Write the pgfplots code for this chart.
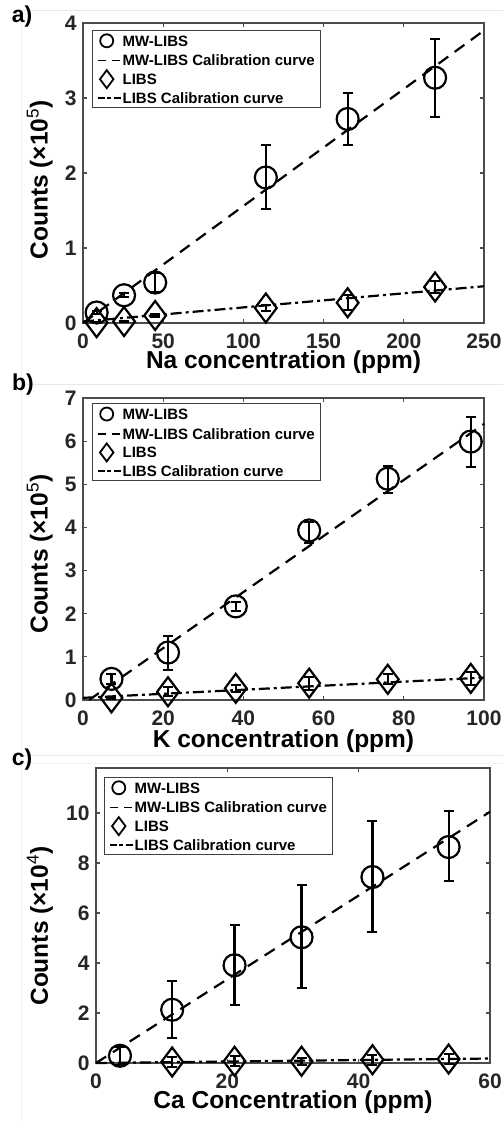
\documentclass[border=0pt]{standalone}
\usepackage{fontspec}
\setmainfont{Liberation Sans}
\usepackage{pgfplots}
\pgfplotsset{compat=1.18}

\newcommand\tickfont{\fontsize{21}{23}\selectfont\bfseries}
\newcommand\labfont{\fontsize{24.5}{27}\selectfont\bfseries}
\newcommand\legfont{\fontsize{15}{17}\selectfont\bfseries}

\pgfplotsset{
  libsax/.style={
    scale only axis, clip=false,
    axis line style={black!70, line width=1.4pt},
    tick style={black!70, line width=1.2pt},
    tick align=inside, major tick length=4pt,
    xtick pos=both, ytick pos=both,
    ticklabel style={font=\tickfont, text=black!85, inner sep=1pt},
    xticklabel style={yshift=-9.3pt},
    yticklabel style={xshift=-5.3pt},
    /pgf/number format/assume math mode=true,
    label style={font=\labfont, inner sep=0pt},
    legend cell align=left,
    legend style={anchor=north west, draw=black!75, line width=1pt, font=\legfont,
      inner xsep=4.5pt, inner ysep=3pt, row sep=5.75pt,
      nodes={inner sep=1pt, text height=11pt, text depth=0pt}},
  },
  mw/.style={only marks, black, mark=o, mark size=11pt, mark options={line width=2.2pt, solid},
    legend image code/.code={
      \path[draw=none, fill=none] (0pt,-6pt) rectangle (23pt,6pt);
      \draw[black, solid, line width=1.8pt] (9pt,0pt) circle (6.5pt);},
    error bars/.cd, y dir=both, y explicit,
    error bar style={line width=2.2pt, solid},
    error mark options={rotate=90, mark size=5pt, line width=2pt}},
  libs/.style={only marks, black, mark=diamond, mark size=14.5pt, mark options={line width=2.2pt, solid},
    legend image code/.code={
      \path[draw=none, fill=none] (0pt,-6pt) rectangle (23pt,6pt);
      \draw[black, solid, line width=1.8pt, overlay] (9pt,9pt) -- (15.75pt,0pt) -- (9pt,-9pt) -- (2.25pt,0pt) -- cycle;},
    error bars/.cd, y dir=both, y explicit,
    error bar style={line width=2.2pt, solid},
    error mark options={rotate=90, mark size=5pt, line width=2pt}},
  mwcal/.style={black, no marks, line width=2.2pt, dash pattern=on 12pt off 8pt,
    legend image code/.code={
      \path[draw=none, fill=none] (0pt,-6pt) rectangle (23pt,6pt);
      \draw[black, line width=1.8pt, dash pattern=on 8pt off 6pt] (0pt,0pt) -- (23pt,0pt);}},
  libscal/.style={black, no marks, line width=2.2pt, dash pattern=on 11pt off 4pt on 3pt off 4pt,
    legend image code/.code={
      \path[draw=none, fill=none] (0pt,-6pt) rectangle (23pt,6pt);
      \draw[black, line width=1.8pt, dash pattern=on 7pt off 2.5pt on 4pt off 2.5pt] (0pt,0pt) -- (23pt,0pt);}},
}

\begin{document}
\begin{tikzpicture}
\useasboundingbox (0pt,0pt) rectangle (503pt,-1121pt);
% faint figure edges
\begin{scope}[gray!18, line width=0.8pt]
\draw (21pt,-10pt) -- (503pt,-10pt);
\draw (21pt,-384pt) -- (503pt,-384pt);
\draw (21pt,-755pt) -- (503pt,-755pt);
\draw[gray!10] (21pt,-763pt) -- (503pt,-763pt);
\draw[gray!10] (21pt,-10pt) -- (21pt,-1121pt);
\end{scope}

\node[font=\fontsize{23}{25}\selectfont\bfseries] at (22pt,-17pt) {a)};
\node[font=\fontsize{23}{25}\selectfont\bfseries] at (23pt,-385pt) {b)};
\node[font=\fontsize{23}{25}\selectfont\bfseries] at (22pt,-760pt) {c)};

% ---- a) Na
\begin{axis}[libsax,
  at={(83pt,-323pt)}, anchor=south west, width=401pt, height=300pt,
  xmin=0, xmax=250, ymin=0, ymax=4,
  xtick={0,50,...,250}, ytick={0,1,2,3,4},
  xlabel={Na concentration (ppm)},
  ylabel={Counts (\texttimes10\textsuperscript{\mdseries 5})},
  xlabel style={at={(axis description cs:0.5,-0.093)}, anchor=north},
  ylabel style={at={(axis description cs:-0.075,0.477)}, anchor=south},
  legend style={at={(0.022,0.977)}},
]
\addplot[mw] coordinates {
(8.5,0.14) +- (0,0.025)
(25.6,0.37) +- (0,0.025)
(45,0.54) +- (0,0.13)
(114,1.94) += (0,0.43) -= (0,0.42)
(165,2.72) +- (0,0.35)
(219.5,3.27) += (0,0.51) -= (0,0.52)
};
\addlegendentry{MW-LIBS}
\addplot[mwcal] coordinates {(0,0) (250,3.9)};
\addlegendentry{MW-LIBS Calibration curve}
\addplot[libs] coordinates {
(8.5,0.005) +- (0,0.01)
(25.6,0.02) +- (0,0.01)
(45,0.1) +- (0,0.02)
(114,0.2) +- (0,0.04)
(165,0.27) +- (0,0.1)
(219.5,0.48) +- (0,0.08)
};
\addlegendentry{LIBS}
\addplot[libscal] coordinates {(0,0.02) (250,0.49)};
\addlegendentry{LIBS Calibration curve}
\end{axis}

% ---- b) K
\begin{axis}[libsax,
  at={(83pt,-700pt)}, anchor=south west, width=401pt, height=302pt,
  xmin=0, xmax=100, ymin=0, ymax=7,
  xtick={0,20,...,100}, ytick={0,1,...,7},
  xlabel={K concentration (ppm)},
  ylabel={Counts (\texttimes10\textsuperscript{\mdseries 5})},
  xlabel style={at={(axis description cs:0.5,-0.099)}, anchor=north},
  ylabel style={at={(axis description cs:-0.075,0.483)}, anchor=south},
  legend style={at={(0.022,0.983)}},
]
\addplot[mw] coordinates {
(7.1,0.49) +- (0,0.12)
(21.2,1.10) += (0,0.39) -= (0,0.40)
(38.1,2.17) +- (0,0.1)
(56.4,3.93) += (0,0.2) -= (0,0.3)
(76,5.13) += (0,0.3) -= (0,0.33)
(96.7,5.99) += (0,0.57) -= (0,0.6)
};
\addlegendentry{MW-LIBS}
\addplot[mwcal] coordinates {(1.5,0) (100,6.4)};
\addlegendentry{MW-LIBS Calibration curve}
\addplot[libs] coordinates {
(7.1,0.05) +- (0,0.03)
(21.2,0.19) +- (0,0.1)
(38.1,0.27) +- (0,0.08)
(56.4,0.39) +- (0,0.15)
(76,0.48) +- (0,0.12)
(96.7,0.5) +- (0,0.15)
};
\addlegendentry{LIBS}
\addplot[libscal] coordinates {(0,0.05) (100,0.52)};
\addlegendentry{LIBS Calibration curve}
\end{axis}

% ---- c) Ca
\begin{axis}[libsax,
  at={(96pt,-1063pt)}, anchor=south west, width=394pt, height=295pt,
  xmin=0, xmax=60, ymin=0, ymax=11.8,
  xtick={0,20,40,60}, ytick={0,2,...,10},
  xlabel={Ca Concentration (ppm)},
  ylabel={Counts (\texttimes10\textsuperscript{\mdseries 4})},
  xlabel style={at={(axis description cs:0.5,-0.095)}, anchor=north},
  ylabel style={at={(axis description cs:-0.109,0.464)}, anchor=south},
  legend style={at={(0.02,0.97)}},
]
\addplot[mw] coordinates {
(3.65,0.29) +- (0,0.35)
(11.6,2.13) += (0,1.16) -= (0,1.13)
(21.1,3.91) +- (0,1.6)
(31.3,5.03) += (0,2.08) -= (0,2.03)
(42.1,7.44) += (0,2.25) -= (0,2.21)
(53.7,8.64) += (0,1.43) -= (0,1.37)
};
\addlegendentry{MW-LIBS}
\addplot[mwcal] coordinates {(0,0) (60,10.05)};
\addlegendentry{MW-LIBS Calibration curve}
\addplot[libs] coordinates {
(11.6,0.04) +- (0,0.2)
(21.1,0.07) +- (0,0.2)
(31.3,0.07) +- (0,0.15)
(42.1,0.13) +- (0,0.2)
(53.7,0.16) +- (0,0.2)
};
\addlegendentry{LIBS}
\addplot[libscal] coordinates {(0,0) (60,0.18)};
\addlegendentry{LIBS Calibration curve}
\end{axis}
\end{tikzpicture}
\end{document}
